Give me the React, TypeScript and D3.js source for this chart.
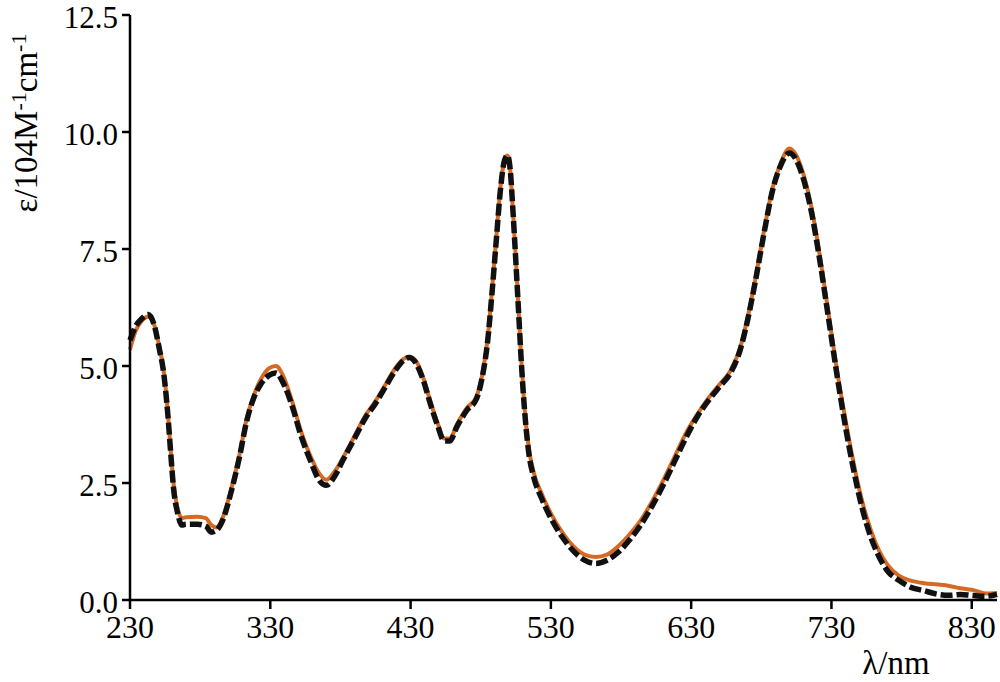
import React from "react";
import * as d3 from "d3";

const wavelengths = [230, 234, 238, 243, 247, 251, 254, 257, 259, 261, 264, 267, 270, 278, 284, 288, 292, 296, 302, 308, 313, 318, 323, 329, 334, 339, 345, 352, 359, 365, 370, 376, 382, 390, 398, 405, 412, 419, 425, 429, 434, 439, 444, 449, 454, 458, 463, 470, 477, 481, 485, 488, 491, 494, 497, 499, 501, 503, 505, 507, 509, 511, 514, 518, 523, 530, 538, 546, 554, 562, 570, 578, 586, 594, 602, 610, 618, 626, 634, 642, 650, 658, 665, 670, 676, 682, 688, 694, 700, 704, 710, 716, 722, 728, 734, 740, 746, 752, 758, 764, 770, 778, 786, 796, 806, 814, 822, 830, 840, 848];

const calcValues = [5.35, 5.75, 5.95, 6.05, 5.9, 5.4, 4.9, 4.0, 3.2, 2.5, 1.95, 1.75, 1.77, 1.78, 1.75, 1.6, 1.55, 1.75, 2.35, 3.1, 3.85, 4.35, 4.7, 4.95, 5.0, 4.8, 4.3, 3.6, 3.05, 2.7, 2.57, 2.75, 3.05, 3.5, 3.95, 4.25, 4.6, 4.95, 5.15, 5.2, 5.1, 4.75, 4.25, 3.8, 3.45, 3.45, 3.75, 4.1, 4.35, 4.8, 5.6, 6.6, 7.7, 8.8, 9.4, 9.5, 9.2, 8.3, 7.3, 6.2, 5.1, 4.2, 3.3, 2.7, 2.3, 1.85, 1.45, 1.15, 0.97, 0.92, 0.97, 1.15, 1.4, 1.7, 2.1, 2.55, 3.05, 3.55, 3.95, 4.3, 4.6, 4.9, 5.4, 6.0, 6.9, 7.9, 8.8, 9.35, 9.65, 9.55, 9.1, 8.35, 7.3, 6.1, 4.9, 3.85, 2.9, 2.1, 1.5, 1.05, 0.75, 0.52, 0.42, 0.36, 0.33, 0.3, 0.25, 0.22, 0.14, 0.15];

const exptValues = [5.55, 5.85, 6.0, 6.1, 5.9, 5.35, 4.85, 3.95, 3.15, 2.4, 1.85, 1.6, 1.62, 1.62, 1.58, 1.45, 1.5, 1.7, 2.3, 3.05, 3.8, 4.3, 4.6, 4.8, 4.85, 4.65, 4.2, 3.5, 2.95, 2.55, 2.45, 2.65, 3.0, 3.45, 3.9, 4.2, 4.55, 4.9, 5.12, 5.18, 5.05, 4.7, 4.2, 3.75, 3.4, 3.4, 3.7, 4.05, 4.3, 4.75, 5.55, 6.55, 7.65, 8.75, 9.4, 9.5, 9.2, 8.3, 7.25, 6.15, 5.05, 4.15, 3.2, 2.6, 2.2, 1.75, 1.35, 1.05, 0.85, 0.78, 0.85, 1.02, 1.28, 1.6, 2.0, 2.45, 2.95, 3.45, 3.9, 4.25, 4.55, 4.85, 5.35, 5.95, 6.85, 7.85, 8.75, 9.3, 9.55, 9.45, 9.0, 8.25, 7.2, 6.0, 4.8, 3.7, 2.75, 1.95, 1.35, 0.92, 0.62, 0.42, 0.28, 0.2, 0.12, 0.1, 0.12, 0.1, 0.08, 0.12];

const xTicks = [230, 330, 430, 530, 630, 730, 830];
const yTicks = [0, 2.5, 5, 7.5, 10, 12.5];

const W = 1000;
const H = 682;

export default function App() {
  const x = d3.scaleLinear().domain([230, 848]).range([130, 997]);
  const y = d3.scaleLinear().domain([0, 12.5]).range([600, 15]);
  const mk = (vals: number[]) =>
    d3
      .line<number>()
      .x((_, i) => x(wavelengths[i]))
      .y((v) => y(v))
      .curve(d3.curveMonotoneX)(vals) || "";
  const font = "'Liberation Serif', 'Times New Roman', serif";
  return (
    <svg width={W} height={H} style={{ position: "absolute", left: 0, top: 0, background: "#fff" }}>
      <path d={mk(calcValues)} fill="none" stroke="#d46a24" strokeWidth={4} />
      <path d={mk(exptValues)} fill="none" stroke="#111" strokeWidth={5.5} strokeDasharray="12 4" />
      {/* axes */}
      <line x1={130} x2={130} y1={y(12.5)} y2={601} stroke="#000" strokeWidth={2.5} />
      <line x1={129} x2={997} y1={600} y2={600} stroke="#000" strokeWidth={2.5} />
      {yTicks.map((t) => (
        <g key={"y" + t}>
          <line x1={122} x2={130} y1={y(t)} y2={y(t)} stroke="#000" strokeWidth={2.5} />
          <text x={118} y={y(t) + 13} textAnchor="end" fontFamily={font} fontSize={31}>
            {t.toFixed(1)}
          </text>
        </g>
      ))}
      {xTicks.map((t) => (
        <g key={"x" + t}>
          <line x1={x(t)} x2={x(t)} y1={600} y2={609} stroke="#000" strokeWidth={2.5} />
          <text x={x(t)} y={638} textAnchor="middle" fontFamily={font} fontSize={32}>
            {t}
          </text>
        </g>
      ))}
      <text x={896} y={674} textAnchor="middle" fontFamily={font} fontSize={33}>
        λ/nm
      </text>
      <text
        transform="translate(37,123) rotate(-90)"
        textAnchor="middle"
        fontFamily={font}
        fontSize={33}
      >
        ε/104M<tspan fontSize={22} dy={-11}>-1</tspan>
        <tspan dy={11}>cm</tspan>
        <tspan fontSize={22} dy={-11}>-1</tspan>
      </text>
    </svg>
  );
}
